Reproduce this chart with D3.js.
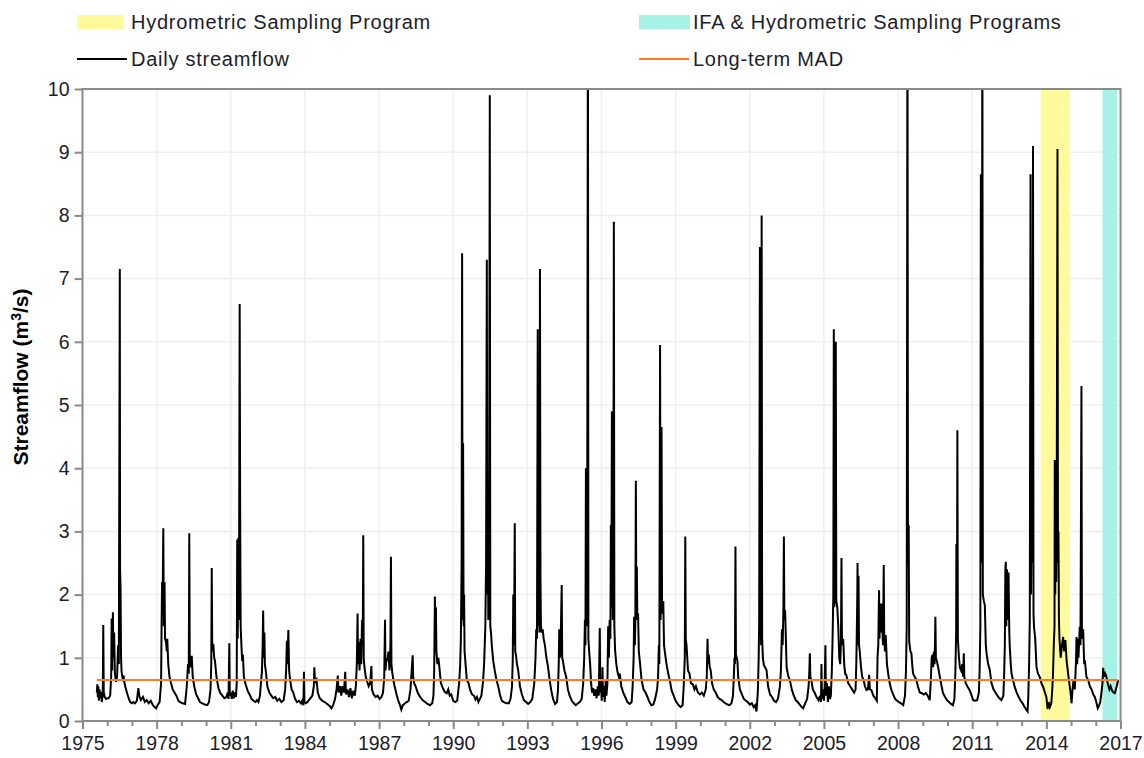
<!DOCTYPE html>
<html><head><meta charset="utf-8">
<script src="https://cdn.jsdelivr.net/npm/d3@7/dist/d3.min.js"></script>
<style>
body{margin:0;background:#fff}
text{font-family:"Liberation Sans",Arial,Helvetica,sans-serif}
</style>
</head><body>
<svg id="chart" width="1144" height="758"></svg>
<script>
// ---------- DATA (decimal year, m3/s) ----------
const flow1975_1984 = [
[1975.58,0.45],[1975.60,0.58],[1975.62,0.38],[1975.64,0.55],[1975.66,0.32],[1975.69,0.5],[1975.72,0.36],[1975.75,0.46],[1975.78,0.30],[1975.82,0.42],[1975.84,1.52],[1975.86,0.45],[1975.90,0.38],[1975.95,0.35],[1976.0,0.36],
[1976.05,0.36],[1976.12,0.4],[1976.16,0.7],[1976.18,1.62],[1976.2,0.8],[1976.23,1.72],[1976.25,1.0],[1976.28,1.4],[1976.31,0.75],[1976.36,0.62],[1976.40,0.7],[1976.44,1.2],[1976.47,0.9],[1976.51,7.15],[1976.52,2.4],[1976.54,2.1],[1976.56,1.0],[1976.58,0.78],[1976.62,0.68],[1976.66,0.72],[1976.70,0.6],[1976.76,0.5],[1976.82,0.42],[1976.88,0.35],[1976.93,0.3],[1977.0,0.28],
[1977.05,0.3],[1977.12,0.28],[1977.2,0.32],[1977.26,0.52],[1977.3,0.4],[1977.36,0.33],[1977.45,0.38],[1977.52,0.3],[1977.6,0.33],[1977.68,0.28],[1977.76,0.32],[1977.85,0.25],[1977.92,0.22],[1977.98,0.2],[1978.05,0.26],[1978.12,0.3],
[1978.18,0.6],[1978.2,1.5],[1978.22,2.2],[1978.24,1.8],[1978.27,3.05],[1978.29,1.5],[1978.32,2.2],[1978.34,1.3],[1978.38,1.25],[1978.41,1.1],[1978.43,1.3],[1978.47,0.9],[1978.52,0.7],[1978.58,0.6],[1978.65,0.5],[1978.72,0.45],[1978.8,0.4],[1978.88,0.32],[1978.95,0.3],[1979.05,0.28],[1979.15,0.27],
[1979.22,0.55],[1979.27,0.9],[1979.3,0.75],[1979.32,2.97],[1979.34,1.0],[1979.38,0.85],[1979.42,1.03],[1979.46,0.7],[1979.52,0.55],[1979.6,0.42],[1979.68,0.36],[1979.75,0.3],[1979.85,0.28],[1979.95,0.26],[1980.05,0.25],[1980.12,0.3],
[1980.18,0.5],[1980.21,0.9],[1980.23,2.42],[1980.25,1.1],[1980.29,1.22],[1980.33,1.0],[1980.36,0.95],[1980.42,0.7],[1980.5,0.52],[1980.58,0.44],[1980.66,0.4],[1980.74,0.36],[1980.82,0.38],[1980.88,0.45],[1980.91,0.35],[1980.94,1.23],[1980.96,0.4],[1981.0,0.45],[1981.04,0.35],[1981.08,0.48],[1981.12,0.36],[1981.17,0.45],[1981.21,0.38],
[1981.24,0.6],[1981.26,2.87],[1981.28,1.3],[1981.31,2.9],[1981.33,1.6],[1981.36,6.6],[1981.38,3.25],[1981.40,1.5],[1981.43,1.2],[1981.46,0.95],[1981.49,1.05],[1981.53,0.7],[1981.6,0.58],[1981.68,0.48],[1981.76,0.42],[1981.84,0.35],[1981.92,0.32],[1982.0,0.3],[1982.06,0.33],
[1982.12,0.3],[1982.18,0.4],[1982.22,0.6],[1982.26,0.78],[1982.29,1.2],[1982.31,1.75],[1982.33,1.0],[1982.36,1.4],[1982.38,0.9],[1982.42,0.78],[1982.48,0.55],[1982.56,0.45],[1982.64,0.4],[1982.72,0.36],[1982.8,0.38],[1982.88,0.32],[1982.96,0.35],[1983.05,0.3],[1983.14,0.33],
[1983.2,0.5],[1983.24,0.8],[1983.27,1.27],[1983.29,0.9],[1983.33,1.44],[1983.36,0.8],[1983.4,0.65],[1983.46,0.5],[1983.53,0.45],[1983.6,0.35],[1983.68,0.3],[1983.76,0.32],[1983.84,0.28],[1983.9,0.33],[1983.94,0.25],[1983.96,0.78],[1983.98,0.3],[1984.04,0.28],
[1984.1,0.3],[1984.2,0.35],[1984.3,0.4],[1984.36,0.55],[1984.38,0.85],[1984.41,0.6],[1984.47,0.65],[1984.52,0.45],[1984.6,0.36],[1984.7,0.32],[1984.8,0.3],[1984.9,0.27]
];
const flow1985_1994 = [
[1985.0,0.24],[1985.07,0.2],[1985.14,0.25],[1985.22,0.35],[1985.28,0.5],[1985.33,0.72],[1985.36,0.45],[1985.42,0.55],[1985.47,0.4],[1985.52,0.55],[1985.58,0.45],[1985.63,0.78],[1985.66,0.42],[1985.72,0.5],[1985.78,0.38],[1985.84,0.52],[1985.9,0.36],[1985.96,0.48],[1986.02,0.4],
[1986.06,0.55],[1986.1,0.9],[1986.13,1.7],[1986.15,0.9],[1986.18,1.25],[1986.21,0.8],[1986.25,1.3],[1986.28,0.9],[1986.31,1.6],[1986.34,1.2],[1986.36,2.94],[1986.38,1.0],[1986.41,0.85],[1986.46,0.7],[1986.52,0.62],[1986.58,0.55],[1986.64,0.6],[1986.69,0.87],[1986.71,0.5],[1986.78,0.42],[1986.86,0.38],[1986.94,0.4],[1987.02,0.35],[1987.1,0.38],
[1987.16,0.45],[1987.21,0.7],[1987.24,1.6],[1987.26,0.8],[1987.3,1.0],[1987.34,0.95],[1987.38,1.1],[1987.42,0.8],[1987.46,1.2],[1987.48,2.6],[1987.5,0.9],[1987.54,0.75],[1987.6,0.6],[1987.66,0.5],[1987.72,0.4],[1987.78,0.32],[1987.84,0.26],[1987.9,0.18],[1987.96,0.25],[1988.05,0.28],
[1988.12,0.3],[1988.2,0.32],[1988.27,0.5],[1988.32,0.8],[1988.36,1.04],[1988.38,0.7],[1988.42,0.6],[1988.48,0.55],[1988.56,0.45],[1988.66,0.38],[1988.76,0.33],[1988.86,0.3],[1988.96,0.27],[1989.06,0.25],[1989.15,0.28],
[1989.2,0.4],[1989.23,0.8],[1989.26,1.97],[1989.28,1.2],[1989.3,1.8],[1989.32,1.1],[1989.36,0.9],[1989.4,1.0],[1989.44,0.85],[1989.5,0.6],[1989.58,0.52],[1989.66,0.46],[1989.74,0.44],[1989.8,0.5],[1989.86,0.4],[1989.92,0.42],[1990.0,0.32],[1990.08,0.3],[1990.16,0.32],
[1990.24,0.6],[1990.28,0.87],[1990.31,1.3],[1990.34,2.5],[1990.36,7.4],[1990.38,1.6],[1990.4,4.4],[1990.42,1.5],[1990.44,2.0],[1990.46,1.1],[1990.5,0.9],[1990.55,0.65],[1990.62,0.6],[1990.68,0.5],[1990.76,0.42],[1990.84,0.4],[1990.9,0.34],[1990.96,0.38],[1991.02,0.3],[1991.08,0.35],[1991.14,0.4],
[1991.2,0.6],[1991.25,0.9],[1991.3,1.5],[1991.33,2.5],[1991.36,7.3],[1991.38,2.0],[1991.4,3.5],[1991.42,1.6],[1991.45,2.4],[1991.48,9.9],[1991.5,1.5],[1991.53,1.4],[1991.56,1.2],[1991.62,0.95],[1991.68,0.8],[1991.75,0.65],[1991.82,0.55],[1991.9,0.4],[1991.97,0.32],[1992.05,0.3],[1992.15,0.28],[1992.25,0.28],[1992.32,0.35],
[1992.38,0.55],[1992.41,1.0],[1992.43,2.0],[1992.45,1.2],[1992.47,1.8],[1992.49,3.13],[1992.51,1.1],[1992.54,1.04],[1992.58,0.9],[1992.63,0.8],[1992.7,0.55],[1992.78,0.42],[1992.86,0.33],[1992.95,0.3],[1993.03,0.27],[1993.12,0.3],
[1993.2,0.35],[1993.28,0.6],[1993.33,1.0],[1993.36,1.45],[1993.39,1.3],[1993.42,6.2],[1993.44,1.5],[1993.47,2.0],[1993.49,1.4],[1993.51,7.15],[1993.53,2.3],[1993.55,1.5],[1993.58,1.4],[1993.62,1.45],[1993.66,1.3],[1993.71,1.2],[1993.77,1.0],[1993.84,0.85],[1993.9,0.65],[1993.97,0.48],[1994.04,0.35],[1994.12,0.27],[1994.2,0.3],
[1994.24,0.5],[1994.27,0.9],[1994.29,1.45],[1994.32,1.0],[1994.35,1.3],[1994.39,2.15],[1994.41,1.0],[1994.44,0.95],[1994.5,0.8],[1994.57,0.7],[1994.64,0.5],[1994.71,0.4],[1994.8,0.32],[1994.88,0.28],[1994.96,0.25]
];
const flow1995_2004 = [
[1995.05,0.28],[1995.12,0.3],[1995.2,0.35],[1995.26,0.6],[1995.3,1.0],[1995.33,1.6],[1995.35,1.2],[1995.37,4.0],[1995.39,1.5],[1995.42,2.5],[1995.45,11.5],[1995.47,1.3],[1995.5,1.1],[1995.54,0.9],[1995.58,0.6],[1995.62,0.45],[1995.66,0.52],[1995.7,0.4],[1995.75,0.5],[1995.8,0.36],[1995.85,0.55],[1995.89,0.4],[1995.93,1.47],[1995.95,0.45],[1995.98,0.6],[1996.01,0.32],[1996.04,0.85],[1996.06,0.38],[1996.1,0.55],[1996.13,0.3],[1996.17,0.65],[1996.2,0.4],
[1996.24,0.6],[1996.27,1.5],[1996.3,1.0],[1996.33,1.6],[1996.36,1.3],[1996.38,3.1],[1996.4,1.8],[1996.42,4.9],[1996.44,2.2],[1996.46,1.6],[1996.48,2.6],[1996.5,7.9],[1996.52,1.5],[1996.55,1.12],[1996.6,0.9],[1996.65,0.77],[1996.7,0.7],[1996.74,0.75],[1996.8,0.55],[1996.88,0.45],[1996.96,0.38],[1997.05,0.3],[1997.14,0.27],[1997.22,0.3],
[1997.26,0.55],[1997.3,1.0],[1997.32,1.65],[1997.35,1.2],[1997.37,1.6],[1997.39,3.8],[1997.41,1.8],[1997.43,2.44],[1997.45,1.6],[1997.48,1.7],[1997.51,1.1],[1997.55,0.95],[1997.62,0.65],[1997.7,0.5],[1997.78,0.45],[1997.86,0.38],[1997.94,0.3],[1998.02,0.25],[1998.1,0.26],[1998.17,0.35],
[1998.25,0.5],[1998.29,0.7],[1998.32,1.2],[1998.34,0.9],[1998.37,5.95],[1998.39,1.6],[1998.41,1.9],[1998.43,4.65],[1998.45,1.8],[1998.47,1.7],[1998.5,1.9],[1998.53,1.2],[1998.56,1.1],[1998.63,0.9],[1998.7,0.75],[1998.76,0.65],[1998.84,0.48],[1998.92,0.4],[1999.0,0.32],[1999.1,0.26],[1999.2,0.22],[1999.28,0.25],
[1999.32,0.5],[1999.35,0.8],[1999.37,1.0],[1999.39,2.92],[1999.41,1.3],[1999.44,1.2],[1999.5,0.8],[1999.56,0.75],[1999.62,0.6],[1999.7,0.58],[1999.76,0.5],[1999.82,0.55],[1999.9,0.45],[1999.98,0.42],[2000.06,0.45],[2000.14,0.4],[2000.22,0.5],
[2000.26,0.7],[2000.29,1.3],[2000.31,0.9],[2000.34,1.05],[2000.38,0.85],[2000.42,0.8],[2000.47,0.6],[2000.54,0.5],[2000.62,0.45],[2000.7,0.38],[2000.78,0.35],[2000.86,0.33],[2000.94,0.3],[2001.02,0.28],[2001.1,0.26],[2001.18,0.25],[2001.26,0.28],
[2001.32,0.4],[2001.36,0.75],[2001.38,1.0],[2001.4,0.9],[2001.42,2.76],[2001.44,1.05],[2001.47,1.0],[2001.5,0.95],[2001.53,0.7],[2001.6,0.5],[2001.68,0.42],[2001.76,0.35],[2001.84,0.32],[2001.92,0.3],[2002.0,0.26],[2002.08,0.28],[2002.16,0.22],[2002.22,0.25],[2002.27,0.15],[2002.3,0.3],
[2002.33,0.5],[2002.36,1.0],[2002.38,1.6],[2002.41,7.5],[2002.43,1.8],[2002.46,1.2],[2002.48,8.0],[2002.5,1.3],[2002.53,1.0],[2002.57,0.88],[2002.62,0.85],[2002.68,0.8],[2002.74,0.55],[2002.82,0.42],[2002.9,0.38],[2002.98,0.32],[2003.06,0.3],[2003.14,0.35],[2003.22,0.55],
[2003.26,0.8],[2003.3,1.45],[2003.33,1.2],[2003.36,1.75],[2003.38,2.92],[2003.4,1.6],[2003.43,1.75],[2003.46,1.3],[2003.49,0.85],[2003.55,0.72],[2003.62,0.65],[2003.7,0.5],[2003.78,0.4],[2003.86,0.33],[2003.94,0.3],[2004.02,0.26],[2004.1,0.22],[2004.16,0.2],[2004.24,0.28],
[2004.32,0.35],[2004.38,0.55],[2004.41,0.8],[2004.43,1.07],[2004.45,0.7],[2004.49,0.65],[2004.55,0.5],[2004.62,0.45],[2004.7,0.38],[2004.78,0.33],[2004.84,0.4],[2004.88,0.3],[2004.9,0.9],[2004.92,0.35],[2004.96,0.5]
];
const flow2005_2016 = [
[2005.0,0.32],[2005.03,0.55],[2005.06,1.2],[2005.08,0.4],[2005.12,0.6],[2005.16,0.3],[2005.2,0.55],[2005.24,0.35],
[2005.28,0.4],[2005.32,0.8],[2005.35,1.3],[2005.38,2.0],[2005.4,6.2],[2005.42,1.8],[2005.45,2.2],[2005.48,6.0],[2005.5,1.9],[2005.54,1.8],[2005.58,1.5],[2005.62,1.0],[2005.66,0.9],[2005.69,1.3],[2005.71,2.58],[2005.73,1.2],[2005.78,1.3],[2005.82,0.9],[2005.86,0.75],[2005.91,0.72],[2005.98,0.6],[2006.06,0.55],[2006.14,0.5],[2006.22,0.45],
[2006.28,0.5],[2006.31,0.9],[2006.33,1.4],[2006.35,2.0],[2006.36,2.5],[2006.38,1.2],[2006.4,2.3],[2006.42,1.2],[2006.45,1.1],[2006.5,0.85],[2006.55,0.7],[2006.6,0.65],[2006.66,0.55],[2006.72,0.49],[2006.78,0.5],[2006.83,0.73],[2006.86,0.5],[2006.92,0.49],[2007.0,0.4],[2007.08,0.36],[2007.14,0.32],
[2007.17,1.02],[2007.2,1.2],[2007.23,2.07],[2007.25,1.3],[2007.28,1.86],[2007.31,1.4],[2007.33,1.86],[2007.36,1.5],[2007.39,1.2],[2007.42,2.47],[2007.44,1.3],[2007.47,1.1],[2007.5,1.36],[2007.55,0.9],[2007.6,0.75],[2007.66,0.6],[2007.73,0.49],[2007.8,0.42],[2007.88,0.35],[2007.96,0.32],[2008.04,0.3],[2008.12,0.28],[2008.21,0.25],
[2008.28,0.4],[2008.32,0.8],[2008.35,1.5],[2008.38,12.0],[2008.4,2.5],[2008.43,3.1],[2008.45,1.25],[2008.5,1.1],[2008.54,1.07],[2008.58,0.85],[2008.61,0.75],[2008.67,0.7],[2008.74,0.65],[2008.8,0.55],[2008.88,0.45],[2008.96,0.44],[2009.04,0.42],[2009.12,0.44],[2009.2,0.4],[2009.28,0.33],
[2009.32,0.6],[2009.36,1.0],[2009.39,1.05],[2009.42,0.85],[2009.45,1.1],[2009.48,0.9],[2009.51,1.65],[2009.53,1.0],[2009.57,0.95],[2009.62,0.85],[2009.69,0.7],[2009.76,0.55],[2009.82,0.44],[2009.9,0.38],[2009.98,0.33],[2010.06,0.3],[2010.14,0.27],[2010.22,0.25],[2010.28,0.35],
[2010.32,0.8],[2010.35,1.4],[2010.36,2.8],[2010.38,1.5],[2010.4,4.6],[2010.42,1.3],[2010.46,1.02],[2010.5,0.85],[2010.55,0.8],[2010.6,0.9],[2010.63,0.7],[2010.66,1.07],[2010.68,0.7],[2010.74,0.6],[2010.8,0.55],[2010.88,0.5],[2010.96,0.42],[2011.04,0.33],[2011.12,0.32],[2011.2,0.33],[2011.27,0.45],
[2011.3,0.8],[2011.33,1.5],[2011.35,8.65],[2011.37,2.5],[2011.39,3.0],[2011.41,12.0],[2011.43,2.0],[2011.47,1.9],[2011.51,1.83],[2011.55,1.2],[2011.58,1.07],[2011.64,0.91],[2011.71,0.81],[2011.78,0.6],[2011.86,0.5],[2011.94,0.45],[2012.02,0.4],[2012.1,0.36],[2012.18,0.33],[2012.26,0.4],
[2012.29,0.7],[2012.32,1.2],[2012.34,2.4],[2012.36,2.52],[2012.38,1.5],[2012.41,2.4],[2012.44,1.6],[2012.47,2.35],[2012.5,1.4],[2012.52,1.17],[2012.56,0.9],[2012.59,0.75],[2012.65,0.65],[2012.72,0.54],[2012.8,0.45],[2012.88,0.38],[2012.96,0.32],[2013.04,0.28],[2013.12,0.22],[2013.2,0.17],[2013.24,0.15],[2013.27,0.4],
[2013.3,0.86],[2013.33,1.6],[2013.36,8.65],[2013.38,2.0],[2013.41,4.0],[2013.43,2.5],[2013.46,9.1],[2013.48,1.7],[2013.5,1.49],[2013.55,1.3],[2013.6,0.86],[2013.66,0.75],[2013.73,0.7],[2013.8,0.6],[2013.87,0.54],[2013.94,0.45],[2014.0,0.38],[2014.05,0.19],[2014.09,0.3],[2014.14,0.22],[2014.2,0.28],
[2014.24,0.5],[2014.27,0.75],[2014.3,1.2],[2014.33,1.5],[2014.34,4.13],[2014.36,2.0],[2014.38,3.9],[2014.4,2.2],[2014.42,3.5],[2014.45,9.05],[2014.47,2.5],[2014.49,3.0],[2014.51,1.6],[2014.53,1.3],[2014.58,1.0],[2014.63,1.2],[2014.68,1.33],[2014.72,1.1],[2014.77,1.28],[2014.82,0.95],[2014.88,0.75],[2014.95,0.54],[2014.98,0.45],[2015.02,0.28],[2015.06,0.5],
[2015.1,0.65],[2015.15,0.5],[2015.2,0.95],[2015.22,1.33],[2015.25,0.9],[2015.27,1.3],[2015.3,1.0],[2015.35,1.49],[2015.38,1.2],[2015.42,5.3],[2015.44,1.3],[2015.49,1.45],[2015.53,0.9],[2015.56,0.96],[2015.62,0.7],[2015.69,0.65],[2015.76,0.55],[2015.83,0.5],[2015.9,0.42],[2015.96,0.38],[2016.02,0.3],[2016.08,0.2],[2016.12,0.23],[2016.18,0.3],
[2016.23,0.45],[2016.27,0.6],[2016.3,0.84],[2016.33,0.7],[2016.38,0.75],[2016.43,0.7],[2016.48,0.6],[2016.55,0.5],[2016.6,0.55],[2016.66,0.48],[2016.72,0.45],[2016.77,0.44],[2016.84,0.54],[2016.88,0.6],[2016.9,0.65]
];
const madValue = 0.65;
const madYears = [1975.58, 2016.9];
const bandLabels = ["Hydrometric Sampling Program", "IFA & Hydrometric Sampling Programs"];
const bandStart = [2013.77, 2016.27];
const bandEnd = [2014.95, 2016.86];
const lineLabels = ["Daily streamflow", "Long-term MAD"];
const xLabelYears = [1975,1978,1981,1984,1987,1990,1993,1996,1999,2002,2005,2008,2011,2014,2017];
const xMinorYears = d3.range(1975, 2018, 1);
const yTickValues = [0,1,2,3,4,5,6,7,8,9,10];

// ---------- STYLE ----------
const C = {yellow:"#fffb9c", cyan:"#a7f2e7", flow:"#000", mad:"#fb7d1f", grid:"#efefef", axis:"#8a8a8a", text:"#1c1c2a"};
const plot = {left:82.5, right:1120.5, top:89, bottom:721};

const svg = d3.select("#chart");
const x = d3.scaleLinear().domain([1975, 2017]).range([plot.left, plot.right]);
const y = d3.scaleLinear().domain([0, 10]).range([plot.bottom, plot.top]);

svg.append("defs").append("clipPath").attr("id","clip")
  .append("rect").attr("x",plot.left).attr("y",plot.top)
  .attr("width",plot.right-plot.left).attr("height",plot.bottom-plot.top);

// grid
const g = svg.append("g");
g.selectAll(".hg").data(yTickValues.filter(v=>v>0 && v<10)).join("line")
  .attr("x1",plot.left).attr("x2",plot.right).attr("y1",d=>y(d)).attr("y2",d=>y(d))
  .attr("stroke",C.grid).attr("stroke-width",1.5);
g.selectAll(".vg").data(xLabelYears.filter(v=>v>1975 && v<2017)).join("line")
  .attr("y1",plot.top).attr("y2",plot.bottom).attr("x1",d=>x(d)).attr("x2",d=>x(d))
  .attr("stroke",C.grid).attr("stroke-width",1.5);

// bands
const bandColors = [C.yellow, C.cyan];
svg.append("g").selectAll("rect").data(bandStart.map((s,i)=>({s, e:bandEnd[i], i}))).join("rect")
  .attr("x",d=>x(d.s)).attr("width",d=>x(d.e)-x(d.s))
  .attr("y",plot.top).attr("height",plot.bottom-plot.top)
  .attr("fill",d=>bandColors[d.i]);

// flow line
const flow = flow1975_1984.concat(flow1985_1994, flow1995_2004, flow2005_2016);
const line = d3.line().x(d=>x(d[0])).y(d=>y(d[1]));
svg.append("path").datum(flow).attr("clip-path","url(#clip)")
  .attr("d",line).attr("fill","none").attr("stroke",C.flow)
  .attr("stroke-width",2).attr("stroke-linejoin","miter");

// MAD line
svg.append("line").attr("x1",x(madYears[0])).attr("x2",x(madYears[1]))
  .attr("y1",y(madValue)).attr("y2",y(madValue))
  .attr("stroke",C.mad).attr("stroke-width",2);

// frame
svg.append("rect").attr("x",plot.left).attr("y",plot.top)
  .attr("width",plot.right-plot.left).attr("height",plot.bottom-plot.top)
  .attr("fill","none").attr("stroke",C.axis).attr("stroke-width",2);

// x axis
const xAxis = svg.append("g").attr("transform",`translate(0,${plot.bottom})`)
  .call(d3.axisBottom(x).tickValues(xLabelYears).tickFormat(d3.format("d")).tickSize(8).tickPadding(6));
const xMinor = svg.append("g").attr("transform",`translate(0,${plot.bottom})`)
  .call(d3.axisBottom(x).tickValues(xMinorYears.filter(v=>!xLabelYears.includes(v))).tickFormat("").tickSize(5));
// y axis
const yAxis = svg.append("g").attr("transform",`translate(${plot.left},0)`)
  .call(d3.axisLeft(y).tickValues(yTickValues).tickFormat(d3.format("d")).tickSize(8).tickPadding(5));

[xAxis, xMinor, yAxis].forEach(a=>{
  a.select(".domain").remove();
  a.selectAll(".tick line").attr("stroke",C.axis).attr("stroke-width",2);
  a.selectAll(".tick text").attr("fill",C.text).style("font-size","19.5px")
    .style("font-family",'"Liberation Sans",Arial,sans-serif');
});
xAxis.selectAll(".tick text").attr("dy","0.75em");

// y title
const yt = svg.append("text")
  .attr("transform",`translate(28,${(plot.top+plot.bottom)/2 - 28}) rotate(-90)`)
  .attr("text-anchor","middle").attr("fill","#000")
  .style("font-size","21px").style("font-weight","bold");
yt.append("tspan").text("Streamflow (m");
yt.append("tspan").text("3").style("font-size","14px").attr("dy","-7");
yt.append("tspan").text("/s)").attr("dy","7");

// legend
const leg = svg.append("g").style("font-size","20px").attr("fill",C.text);
const legCols = [77, 639];
const legText = [131, 693];
const rowY = [22, 59];
leg.selectAll(".sw").data(bandLabels).join("rect")
  .attr("x",(d,i)=>legCols[i]).attr("y",rowY[0]-7).attr("width",(d,i)=>i?51:47).attr("height",14)
  .attr("fill",(d,i)=>bandColors[i]);
leg.selectAll(".bt").data(bandLabels).join("text")
  .attr("x",(d,i)=>legText[i]).attr("y",rowY[0]).attr("dy","0.35em")
  .style("letter-spacing","0.75px").text(d=>d);
const lineColors = [C.flow, C.mad];
leg.selectAll(".ln").data(lineLabels).join("line")
  .attr("x1",(d,i)=>legCols[i]).attr("x2",(d,i)=>legText[i]-4)
  .attr("y1",rowY[1]).attr("y2",rowY[1])
  .attr("stroke",(d,i)=>lineColors[i]).attr("stroke-width",2);
leg.selectAll(".lt").data(lineLabels).join("text")
  .attr("x",(d,i)=>legText[i]).attr("y",rowY[1]).attr("dy","0.35em")
  .style("letter-spacing","0.75px").text(d=>d);
</script>
</body></html>
